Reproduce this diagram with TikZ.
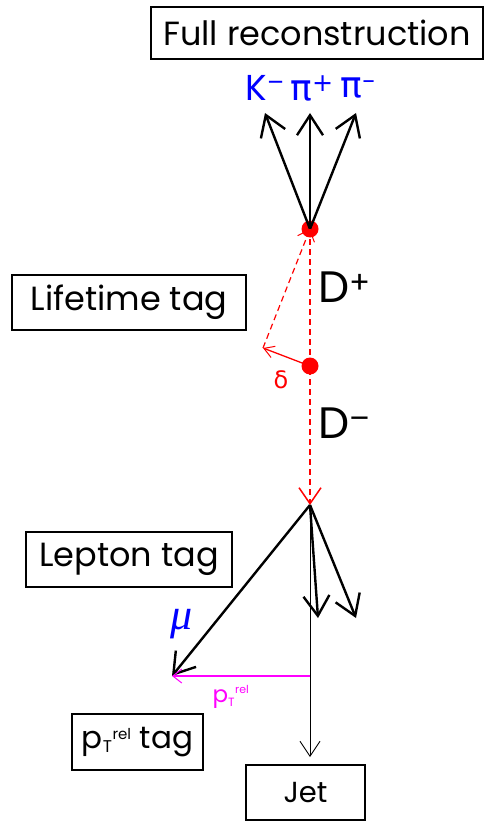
\documentclass[tikz,border=0pt]{standalone}
\usepackage{fontspec}
\setmainfont{Poppins}
\newfontfamily\dejavu{DejaVu Sans}
\newfontfamily\lserif{Liberation Serif}
\usetikzlibrary{arrows.meta}
\definecolor{rootblue}{RGB}{0,0,255}
\definecolor{rootred}{RGB}{255,0,0}
\definecolor{rootmag}{RGB}{255,0,255}
\begin{document}
\begin{tikzpicture}[x=1pt,y=-1pt,
  tagbox/.style={draw,line width=1.6pt,inner sep=0pt,font=\fontsize{33.5}{36}\selectfont},
  track/.style={line width=2.4pt,-{Straight Barb[length=20pt,width=26pt,line width=2.4pt]}},
  flight/.style={rootred,line width=2pt,dash pattern=on 6pt off 4pt,-{Straight Barb[length=16pt,width=22pt,line width=1.5pt]}},
  vtx/.style={circle,fill=rootred,inner sep=0pt,minimum size=17pt}]
\useasboundingbox (0,0) rectangle (484,821);
% boxes
\node[tagbox,minimum width=332pt,minimum height=52pt] (full) at (317,33) {Full reconstruction};
\node[tagbox,minimum width=234pt,minimum height=55pt] (life) at (129,302.5) {Lifetime tag};
\node[tagbox,minimum width=206pt,minimum height=55pt] (lep) at (129,559.5) {Lepton tag};
\node[tagbox,minimum width=131pt,minimum height=56pt,font=\fontsize{31}{34}\selectfont] (ptt) at (137.5,742) {p\textsubscript{\fontsize{17}{17}\selectfont T}\textsuperscript{\fontsize{15}{15}\selectfont rel} tag};
\node[tagbox,minimum width=119pt,minimum height=55pt,font=\fontsize{29}{30}\selectfont] (jet) at (305.5,792.5) {Jet};
% vertices
\node[vtx] (v1) at (310,229) {};
\node[vtx] (v2) at (310,366) {};
\coordinate (v3) at (310,505);
% D decay products
\coordinate (k) at (265,113);
\coordinate (p1) at (310,113);
\coordinate (p2) at (356,113);
\draw[track] (v1.center) -- (k);
\draw[track] (v1.center) -- (p1);
\draw[track] (v1.center) -- (p2);
\node[rootblue,font=\fontsize{36}{38}\selectfont] (kl) at (265,88) {K\textsuperscript{–}};
\node[rootblue,font=\dejavu\fontsize{36}{38}\selectfont] (p1l) at (312,88) {π\textsuperscript{+}};
\node[rootblue,font=\dejavu\fontsize{36}{38}\selectfont] (p2l) at (358,88) {π\textsuperscript{–}};
% flight path
\draw[flight] (v1.center) -- (v3);
\coordinate (dp) at (263,348);
\draw[rootred,line width=1.2pt,dash pattern=on 6pt off 4pt,-{Straight Barb[length=10pt,width=18pt,line width=1pt]}] (dp) -- (v1.center);
\draw[rootred,line width=1.3pt,-{Straight Barb[length=10pt,width=12pt,line width=1pt]}] (v2.center) -- (dp);
\node[rootred,font=\dejavu\fontsize{24}{26}\selectfont] (dl) at (281,380) {δ};
\node[font=\fontsize{44}{46}\selectfont] (dplus) at (345,287) {D\textsuperscript{+}};
\node[font=\fontsize{44}{46}\selectfont] (dminus) at (345,423) {D\textsuperscript{–}};
% B side
\coordinate (mu) at (172,676);
\coordinate (t1) at (318,618);
\coordinate (t2) at (356,618);
\coordinate (jend) at (310,757);
\coordinate (foot) at (310,676);
\draw[line width=0.9pt,-{Straight Barb[length=15pt,width=20pt,line width=0.9pt]}] (v3) -- (jend);
\draw[track] (v3) -- (mu);
\draw[track] (v3) -- (t1);
\draw[track] (v3) -- (t2);
\draw[rootmag,line width=1.2pt,-{Straight Barb[length=9pt,width=14pt,line width=1pt]}] (foot) -- (mu);
\node[rootblue,font=\lserif\itshape\fontsize{44}{46}\selectfont] (mul) at (182,624) {μ};
\node[rootmag,font=\fontsize{23}{24}\selectfont] (ptl) at (231,697) {p\textsubscript{\fontsize{12}{12}\selectfont T}\textsuperscript{\fontsize{11}{11}\selectfont rel}};
\end{tikzpicture}
\end{document}
